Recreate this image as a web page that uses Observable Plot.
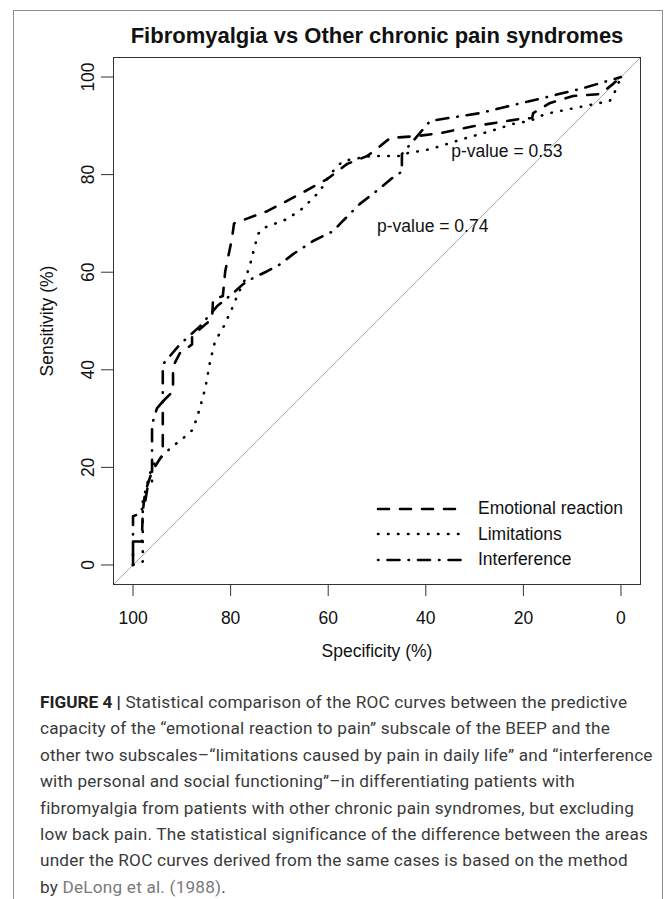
<!DOCTYPE html>
<html>
<head>
<meta charset="utf-8">
<script src="https://cdn.jsdelivr.net/npm/d3@7"></script>
<script src="https://cdn.jsdelivr.net/npm/@observablehq/plot@0.6"></script>
<style>
  html, body { margin: 0; padding: 0; background: #fff; }
  #fig { position: relative; width: 670px; height: 899px; overflow: hidden; font-family: "Liberation Sans", Arial, sans-serif; }
  #box { position: absolute; left: 13px; top: 10px; width: 648px; height: 960px; border: 1px solid #8c8c8c; }
  #chart { position: absolute; left: 0; top: 0; }
  #legend { position: absolute; left: 376px; top: 496px; font-size: 17.5px; color: #111; }
  #legend .row { display: flex; align-items: center; height: 25.5px; }
  #legend svg { width: 90px; height: 8px; margin-right: 12px; }
  #caption { position: absolute; left: 40px; top: 689px; font-family: Roboto, "Liberation Sans", sans-serif; font-size: 17.2px; letter-spacing: 0.2px; line-height: 26.4px; color: #3a3a3a; white-space: nowrap; }
  #caption b { color: #222; letter-spacing: 0; }
  #caption .ref { color: #7a7a7a; }
</style>
</head>
<body>
<div id="fig">
  <div id="box"></div>
  <div id="chart"></div>
  <div id="legend"></div>
  <div id="caption"></div>
</div>
<script>
// ---- data ----
const titleText = "Fibromyalgia vs Other chronic pain syndromes";
const xLabel = "Specificity (%)";
const yLabel = "Sensitivity (%)";
const xTicks = [100, 80, 60, 40, 20, 0];
const yTicks = [0, 20, 40, 60, 80, 100];
const seriesNames = ["Emotional reaction", "Limitations", "Interference"];

// specificity (%) / sensitivity (%) pairs
const emotionalSpec = [100, 100, 98.2, 98, 97.5, 96.1, 93.9, 93.9, 91.8, 91.8, 90.4, 87.9, 87.9, 85.2, 83.8, 83.6, 81.6, 81.1, 79.7, 79.3, 72.5, 65.8, 60.2, 56.1, 52.0, 49.4, 47.3, 41.8, 37.1, 30.3, 20.7, 18.2, 18.0, 14.5, 9.8, 4.3, 1.6, 0];
const emotionalSens = [0, 4.8, 4.8, 11, 15, 19.2, 22.7, 33.5, 35.6, 40.7, 43.4, 45.2, 46.9, 49.3, 50.4, 54.5, 55.1, 60.2, 67.0, 70.0, 72.5, 76.0, 79.1, 82.2, 83.8, 85.8, 87.5, 87.9, 88.5, 89.9, 91.4, 91.6, 92.6, 94.7, 96.1, 96.5, 98.6, 100];

const limitationsSpec = [100, 98, 98, 97, 96, 95.1, 92.4, 88.7, 87.7, 86.3, 85.2, 84.2, 83.2, 81.6, 79.7, 78.5, 77.0, 76.0, 74.4, 73.4, 68.4, 65.2, 61.7, 59.6, 57.0, 51.4, 45.3, 44.9, 39.1, 32.4, 26.8, 22.1, 18.6, 15.6, 2.3, 1.2, 0];
const limitationsSens = [0, 0.7, 13, 17, 20.5, 21.2, 23.9, 26.8, 27.8, 32.1, 36.2, 41.7, 45.8, 48.5, 52.6, 55.5, 58.6, 61.6, 67.8, 69.0, 70.9, 73.1, 76.6, 80.1, 82.8, 83.8, 83.8, 84.2, 85.2, 87.3, 88.9, 90.4, 91.0, 92.4, 95.1, 97.1, 100];

const interferenceSpec = [100, 100, 98.6, 97.5, 97, 96.1, 96.1, 95.1, 93.9, 93.9, 90.4, 86.3, 82.8, 79.5, 77.5, 75.4, 72.5, 69.9, 67.2, 63.1, 59.0, 57.0, 53.5, 49.4, 45.9, 44.9, 44.9, 39.1, 28.9, 24.8, 16.0, 7.8, 0];
const interferenceSens = [0, 10, 10.5, 13, 16, 17, 28.8, 32.1, 33.5, 41.1, 45.2, 48.9, 53.0, 55.7, 57.5, 58.8, 60.2, 61.6, 63.7, 66.4, 68.4, 70.5, 74.0, 77.2, 80.1, 80.5, 84.2, 91.0, 92.6, 93.6, 95.7, 97.7, 100];

// p-value annotations (spec, sens, text)
const pSpec = [34.8, 50.0];
const pSens = [84.8, 69.4];
const pText = ["p-value = 0.53", "p-value = 0.74"];

// chance diagonal end points (plot limits)
const diagSpec = [104, -4];
const diagSens = [-4, 104];

// ---- build tables ----
const toRows = (xs, ys, name) => xs.map((x, i) => ({spec: x, sens: ys[i], series: name}));
const emotional = toRows(emotionalSpec, emotionalSens, seriesNames[0]);
const limitations = toRows(limitationsSpec, limitationsSens, seriesNames[1]);
const interference = toRows(interferenceSpec, interferenceSens, seriesNames[2]);
const diagonal = toRows(diagSpec, diagSens, "diag");
const pLabels = pSpec.map((x, i) => ({spec: x, sens: pSens[i], label: pText[i]}));

const dashes = {
  [seriesNames[0]]: "11,11",
  [seriesNames[1]]: "0.5,9.5",
  [seriesNames[2]]: "0.5,9,12,9"
};
const lw = 2.6;
const lineOpts = (name) => ({x: "spec", y: "sens", stroke: "#000", strokeWidth: lw, strokeDasharray: dashes[name], strokeLinecap: "round", strokeLinejoin: "round"});

const chart = Plot.plot({
  width: 670,
  height: 680,
  marginLeft: 113,
  marginRight: 30,
  marginTop: 57,
  marginBottom: 96,
  style: {fontFamily: "'Liberation Sans', Arial, sans-serif", fontSize: "17.5px", color: "#111", background: "transparent", overflow: "visible"},
  x: {domain: [104, -4]},
  y: {domain: [-4, 104]},
  marks: [
    Plot.line(diagonal, {x: "spec", y: "sens", stroke: "#a8a8a8", strokeWidth: 1}),
    Plot.line(emotional, lineOpts(seriesNames[0])),
    Plot.line(limitations, lineOpts(seriesNames[1])),
    Plot.line(interference, lineOpts(seriesNames[2])),
    Plot.text(pLabels, {x: "spec", y: "sens", text: "label", textAnchor: "start", fontSize: 17.5, fill: "#111"}),
    Plot.frame({stroke: "#333", strokeWidth: 1}),
    Plot.axisX({ticks: xTicks, tickSize: 12, tickPadding: 15, tickFormat: d => String(d), label: null, fontSize: 17.5, stroke: "#333"}),
    Plot.axisY({ticks: yTicks, tickSize: 12, tickPadding: 8, tickRotate: -90, tickFormat: d => String(d), label: null, fontSize: 17.5, stroke: "#333"}),
    Plot.text([titleText], {frameAnchor: "top", dy: -22, lineAnchor: "middle", fontSize: 22, fontWeight: "bold", fill: "#111"}),
    Plot.text([xLabel], {frameAnchor: "bottom", dy: 67, lineAnchor: "middle", fontSize: 17.5, fill: "#111"}),
    Plot.text([yLabel], {frameAnchor: "left", dx: -66, rotate: -90, textAnchor: "middle", lineAnchor: "middle", fontSize: 17.5, fill: "#111"})
  ]
});
document.getElementById("chart").appendChild(chart);

// ---- legend ----
const legend = document.getElementById("legend");
seriesNames.forEach(name => {
  const row = document.createElement("div");
  row.className = "row";
  row.innerHTML = `<svg viewBox="0 0 90 8"><line x1="2" y1="4" x2="88" y2="4" stroke="#000" stroke-width="${lw}" stroke-linecap="round" stroke-dasharray="${dashes[name]}"/></svg><span>${name}</span>`;
  legend.appendChild(row);
});

// ---- caption ----
const captionLines = [
  "<b>FIGURE 4 |</b> Statistical comparison of the ROC curves between the predictive",
  "capacity of the \u201cemotional reaction to pain\u201d subscale of the BEEP and the",
  "other two subscales\u2013\u201climitations caused by pain in daily life\u201d and \u201cinterference",
  "with personal and social functioning\u201d\u2013in differentiating patients with",
  "fibromyalgia from patients with other chronic pain syndromes, but excluding",
  "low back pain. The statistical significance of the difference between the areas",
  "under the ROC curves derived from the same cases is based on the method",
  "by <span class=\"ref\">DeLong et al. (1988)</span>."
];
document.getElementById("caption").innerHTML = captionLines.map(l => `<div>${l}</div>`).join("");
</script>
</body>
</html>
